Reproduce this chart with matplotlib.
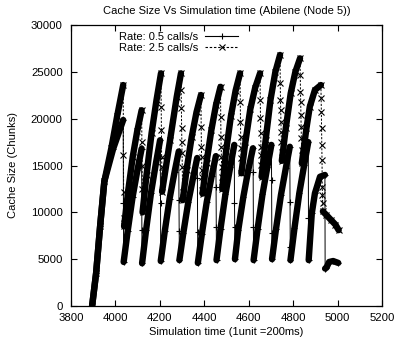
import matplotlib
matplotlib.use("Agg")
import matplotlib.pyplot as plt
from matplotlib.lines import Line2D

# ---------------- data ----------------
# Rate 0.5 calls/s : key samples (time, cache size)
s1_x = [3895, 3913, 3931, 3950, 3990, 4035,
        4036, 4037,
        4055, 4077, 4099, 4118,
        4119, 4120,
        4138, 4160, 4182, 4201,
        4202, 4203, 4204,
        4222, 4244, 4266, 4285,
        4286, 4287, 4288,
        4306, 4328, 4350, 4368,
        4369, 4370, 4371,
        4389, 4411, 4433, 4452,
        4453, 4454, 4455,
        4473, 4495, 4517, 4535,
        4536, 4537, 4538,
        4553, 4576, 4598, 4619,
        4620, 4621, 4622,
        4640, 4662, 4684, 4702,
        4703, 4704, 4705,
        4723, 4745, 4767, 4785,
        4786, 4787, 4788,
        4806, 4828, 4850, 4868,
        4869, 4870,
        4884, 4898, 4921, 4943,
        4944,
        4950, 4962, 4980, 5003]
s1_y = [0, 3500, 8500, 13300, 16800, 19860,
        11000, 4700,
        7970, 11600, 14500, 16800,
        8100, 4560,
        8110, 12050, 15200, 17700,
        15770, 10960, 4800,
        7960, 11470, 14280, 16500,
        11320, 8000, 4900,
        7840, 11110, 13730, 15800,
        13630, 7930, 4600,
        7680, 11100, 13830, 16000,
        12740, 8470, 4900,
        8220, 11910, 14860, 17200,
        10960, 8470, 5000,
        8110, 11670, 14520, 16840,
        14340, 8470, 4900,
        8220, 11910, 14860, 17200,
        13450, 7760, 5000,
        8240, 11840, 14720, 17000,
        11140, 6330, 4900,
        8300, 12080, 15100, 17500,
        9360, 4900,
        9900, 12030, 13800, 13990,
        4000,
        4100, 4700, 4800, 4600]

# Rate 2.5 calls/s : key samples (time, cache size)
s2_x = [3895, 3913, 3931, 3950, 3982, 4008, 4035,
        4036, 4037, 4038, 4039,
        4057, 4078, 4098, 4118,
        4119, 4120, 4121, 4122,
        4140, 4163, 4185, 4205,
        4206, 4207, 4208, 4209, 4210,
        4246, 4276, 4295,
        4296, 4297, 4298, 4299, 4300, 4301, 4302, 4303,
        4320, 4343, 4365, 4385,
        4386, 4387, 4388, 4389, 4390, 4391, 4392,
        4410, 4432, 4453, 4473,
        4474, 4475, 4476, 4477, 4478, 4479, 4480, 4481,
        4498, 4520, 4541, 4561,
        4562, 4563, 4564, 4565, 4566, 4567,
        4585, 4607, 4629, 4651,
        4652, 4653, 4654, 4655, 4656, 4657, 4658,
        4676, 4698, 4720, 4741,
        4742, 4743, 4744, 4745, 4746, 4747, 4748, 4749,
        4767, 4789, 4810, 4831,
        4832, 4833, 4834, 4835, 4836, 4837, 4838, 4839,
        4860, 4875, 4898, 4925,
        4926, 4927, 4928, 4929, 4930, 4931, 4932, 4933, 4934,
        4950, 4970, 4990, 5005]
s2_y = [0, 3500, 8500, 13300, 16900, 20300, 23590,
        16120, 12200, 9360, 8500,
        12220, 15940, 18670, 20900,
        17540, 15000, 12500, 10000,
        14000, 18500, 22000, 24840,
        21280, 18790, 15940, 14870, 12200,
        17720, 22340, 24840,
        23060, 21100, 18970, 17540, 16300, 14870, 12200, 11300,
        14500, 18000, 20700, 22525,
        19140, 17010, 15940, 14520, 13800, 12380, 12000,
        15300, 18800, 21500, 23400,
        20200, 18080, 17010, 15940, 14870, 13800, 12740, 12500,
        16500, 20300, 23000, 24840,
        21810, 19680, 18080, 16840, 15770, 14170,
        17500, 21000, 23300, 24840,
        21990, 20040, 18440, 17010, 16120, 15050, 13800,
        17700, 22000, 25000, 26800,
        23770, 21990, 20930, 19680, 18610, 17540, 16470, 15500,
        19000, 22700, 25000, 26440,
        24660, 22880, 21810, 20390, 19140, 17900, 16650, 15230,
        19000, 21280, 23060, 23590,
        22170, 20740, 18970, 17190, 15590, 12740, 11850, 10960, 10100,
        9700, 9200, 8700, 8100]

series_labels = ["Rate: 0.5 calls/s", "Rate: 2.5 calls/s"]
title = "Cache Size Vs Simulation time (Abilene (Node 5))"
xlabel = "Simulation time (1unit =200ms)"
ylabel = "Cache Size (Chunks)"
xticks = [3800, 4000, 4200, 4400, 4600, 4800, 5000, 5200]
yticks = [0, 5000, 10000, 15000, 20000, 25000, 30000]

# ---------------- drawing ----------------
plt.rcParams['font.family'] = ['Liberation Sans', 'DejaVu Sans']
FS = 8.2
LFS = 8

fig = plt.figure(figsize=(3.96, 3.47), dpi=100)
ax = fig.add_axes([71/396, 1-306/347, (382-71)/396, (306-25)/347])

BAND = 4.6

def draw_series(xs, ys, ls, marker, ms, dashes=None):
    # thin connecting line with markers at every sample
    kw = dict(color='black', lw=0.7, marker=marker, ms=ms, mew=0.8,
              linestyle=ls)
    if dashes:
        kw['dashes'] = dashes
    ax.plot(xs, ys, **kw)
    # densely sampled stretches (time step >= 3) appear as thick bands
    run_x, run_y = [], []
    for i in range(len(xs) - 1):
        if xs[i+1] - xs[i] >= 3:
            if not run_x:
                run_x, run_y = [xs[i]], [ys[i]]
            run_x.append(xs[i+1]); run_y.append(ys[i+1])
        else:
            if run_x:
                ax.plot(run_x, run_y, color='black', lw=BAND,
                        solid_capstyle='round', solid_joinstyle='round')
            run_x, run_y = [], []
    if run_x:
        ax.plot(run_x, run_y, color='black', lw=BAND,
                solid_capstyle='round', solid_joinstyle='round')

draw_series(s1_x, s1_y, '-', '+', 4.5)
draw_series(s2_x, s2_y, '--', 'x', 4.0, dashes=(2.2, 1.6))

ax.set_xlim(3800, 5200)
ax.set_ylim(0, 30000)
ax.set_xticks(xticks)
ax.set_yticks(yticks)
ax.tick_params(direction='in', length=4, width=0.8, top=True, right=True,
               labelsize=FS, pad=5)
ax.tick_params(axis='y', pad=6)
for sp in ax.spines.values():
    sp.set_linewidth(0.9)

ax.set_title(title, fontsize=LFS, pad=8)
ax.set_xlabel(xlabel, fontsize=LFS, labelpad=3)
ax.set_ylabel(ylabel, fontsize=LFS, labelpad=9)

handles = [Line2D([], [], color='black', lw=0.8, marker='+', ms=4.5, mew=0.8),
           Line2D([], [], color='black', lw=0.8, linestyle='--',
                  dashes=(2.2, 1.6), marker='x', ms=4.0, mew=0.8)]
ax.legend(handles, series_labels, loc='upper left', frameon=False,
          markerfirst=False, numpoints=1, fontsize=LFS, handlelength=3.0,
          handletextpad=0.6, labelspacing=0.1,
          bbox_to_anchor=((112-71)/311, 1.0), borderaxespad=0.25)

fig.savefig("out.png", dpi=100)
